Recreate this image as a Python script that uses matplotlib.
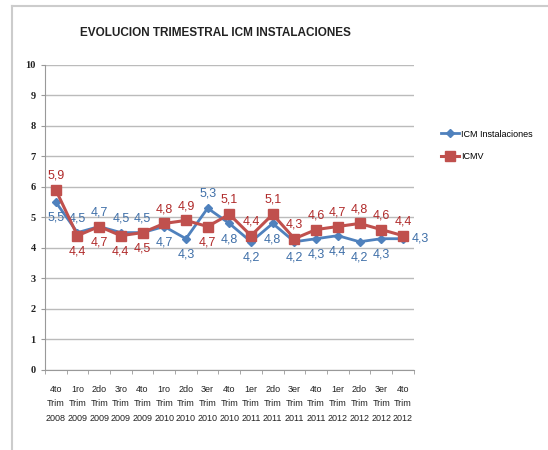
import numpy as np
import matplotlib.pyplot as plt

categories = ["4to\nTrim\n2008", "1ro\nTrim\n2009", "2do\nTrim\n2009", "3ro\nTrim\n2009",
              "4to\nTrim\n2009", "1ro\nTrim\n2010", "2do\nTrim\n2010", "3er\nTrim\n2010",
              "4to\nTrim\n2010", "1er\nTrim\n2011", "2do\nTrim\n2011", "3er\nTrim\n2011",
              "4to\nTrim\n2011", "1er\nTrim\n2012", "2do\nTrim\n2012", "3er\nTrim\n2012",
              "4to\nTrim\n2012"]
icm_inst = [5.5, 4.5, 4.7, 4.5, 4.5, 4.7, 4.3, 5.3, 4.8, 4.2, 4.8, 4.2, 4.3, 4.4, 4.2, 4.3, 4.3]
icmv = [5.9, 4.4, 4.7, 4.4, 4.5, 4.8, 4.9, 4.7, 5.1, 4.4, 5.1, 4.3, 4.6, 4.7, 4.8, 4.6, 4.4]
# label placement: 'a' above, 'b' below, 'r' right
pos_inst = list("baaaabbabbbbbbbbr")
pos_icmv = list("abbbbaabaaaaaaaaa")

blue = "#4F81BD"
red = "#C0504D"
blue_txt = "#3F6FA8"
red_txt = "#B02A2A"
sans = ["Liberation Sans", "DejaVu Sans"]

fig = plt.figure(figsize=(5.48, 4.5), dpi=100)
ax = fig.add_axes([0.082, 0.178, 0.673, 0.678])
x = np.arange(len(categories))

ax.plot(x, icm_inst, color=blue, lw=2, marker="D", ms=4.5, label="ICM Instalaciones", zorder=3)
ax.plot(x, icmv, color=red, lw=2.2, marker="s", ms=7, label="ICMV", zorder=4)

def put(vals, pos, color):
    for i, (v, p) in enumerate(zip(vals, pos)):
        s = ("%.1f" % v).replace(".", ",")
        kw = dict(textcoords="offset points", color=color, fontsize=9, family=sans)
        if p == "a":
            ax.annotate(s, (i, v), xytext=(0, 6), ha="center", va="bottom", **kw)
        elif p == "b":
            ax.annotate(s, (i, v), xytext=(0, -7), ha="center", va="top", **kw)
        else:
            ax.annotate(s, (i, v), xytext=(6, 0), ha="left", va="center", **kw)

put(icm_inst, pos_inst, blue_txt)
put(icmv, pos_icmv, red_txt)

ax.set_xlim(-0.5, len(categories) - 0.5)
ax.set_ylim(0, 10)
ax.set_yticks(range(0, 11))
ax.set_xticks(x)
ax.set_xticklabels(categories, fontsize=6.5, linespacing=1.75, family=sans, color="#222222")
ax.set_xticks(np.arange(-0.5, len(categories)), minor=True)
ax.tick_params(axis="x", which="major", length=0, pad=11)
ax.tick_params(axis="x", which="minor", length=3, color="#999999")
ax.tick_params(axis="y", length=3, color="#999999", labelsize=7.5, labelcolor="#222222")
for lab in ax.get_yticklabels():
    lab.set_family("Liberation Serif")
    lab.set_fontweight("bold")
ax.yaxis.grid(True, color="#BBBBBB", lw=1)
ax.set_axisbelow(True)
for s in ["top", "right"]:
    ax.spines[s].set_visible(False)
for s in ["left", "bottom"]:
    ax.spines[s].set_color("#999999")

fig.text(0.393, 0.927, "EVOLUCION TRIMESTRAL ICM INSTALACIONES", ha="center", va="center",
         fontsize=8.5, fontweight="bold", color="#222222", family=sans)

fig.legend(loc="upper left", bbox_to_anchor=(0.79, 0.73), frameon=False,
           prop={"family": sans, "size": 6.5},
           handlelength=2.0, labelspacing=1.5, handletextpad=0.2)

# chart area border (left and top)
fig.add_artist(plt.Line2D([0.022, 0.022], [0, 0.987], color="#CCCCCC", lw=1.5))
fig.add_artist(plt.Line2D([0.022, 1.0], [0.987, 0.987], color="#CCCCCC", lw=1.5))

fig.savefig("out.png", dpi=100)
